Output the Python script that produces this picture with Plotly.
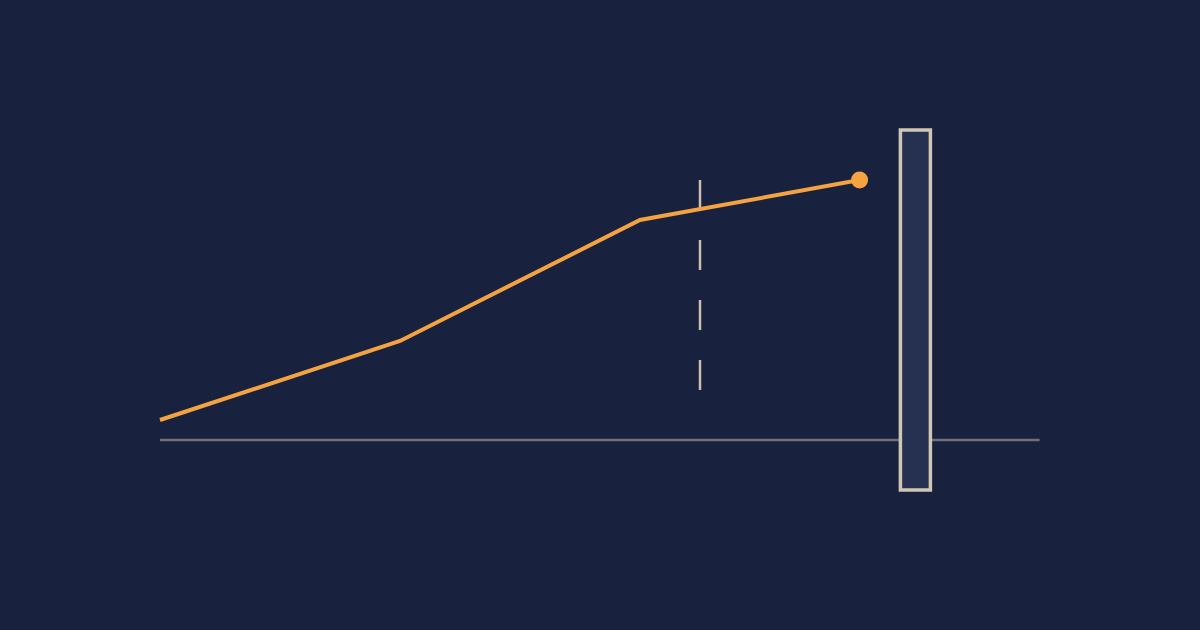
import plotly.graph_objects as go

# orange series (x in steps, y in units above the baseline)
series_x = [0, 20, 40, 58.3]
series_y = [20, 99, 220, 260]

# baseline extent, marker line and the tall box
base_x = [0, 73.3]
marker_x = 45
marker_y = [260, 50]
box_x = [61.7, 64.2]
box_y = [-50, 310]

bg = '#18223E'

fig = go.Figure()

fig.add_trace(go.Scatter(x=series_x, y=series_y, mode='lines',
                         line=dict(color='#F4A340', width=4),
                         hoverinfo='skip'))
fig.add_trace(go.Scatter(x=[series_x[-1]], y=[series_y[-1]], mode='markers',
                         marker=dict(color='#F4A340', size=17),
                         hoverinfo='skip'))

# baseline
fig.add_shape(type='line', x0=base_x[0], x1=base_x[1], y0=0, y1=0,
              line=dict(color='#6E717A', width=2.5), layer='below')
# dashed marker
fig.add_shape(type='line', x0=marker_x, x1=marker_x, y0=marker_y[0], y1=marker_y[1],
              line=dict(color='#C9C0AE', width=2.5, dash='30px,30px'), layer='below')
# box
fig.add_shape(type='rect', x0=box_x[0], x1=box_x[1], y0=box_y[0], y1=box_y[1],
              line=dict(color='#CFC6B4', width=3.5), fillcolor='#263151', layer='below')

fig.update_layout(
    width=1200, height=630,
    margin=dict(l=0, r=0, t=0, b=0),
    paper_bgcolor=bg, plot_bgcolor=bg,
    showlegend=False,
    xaxis=dict(range=[-160 / 12, 1040 / 12], visible=False, fixedrange=True),
    yaxis=dict(range=[-190, 440], visible=False, fixedrange=True),
)

# drop the page margin so the figure sits flush in the window
fig.write_html("out.html", config={'displayModeBar': False},
               post_script="document.body.style.margin='0';document.body.style.background='%s';" % bg)
